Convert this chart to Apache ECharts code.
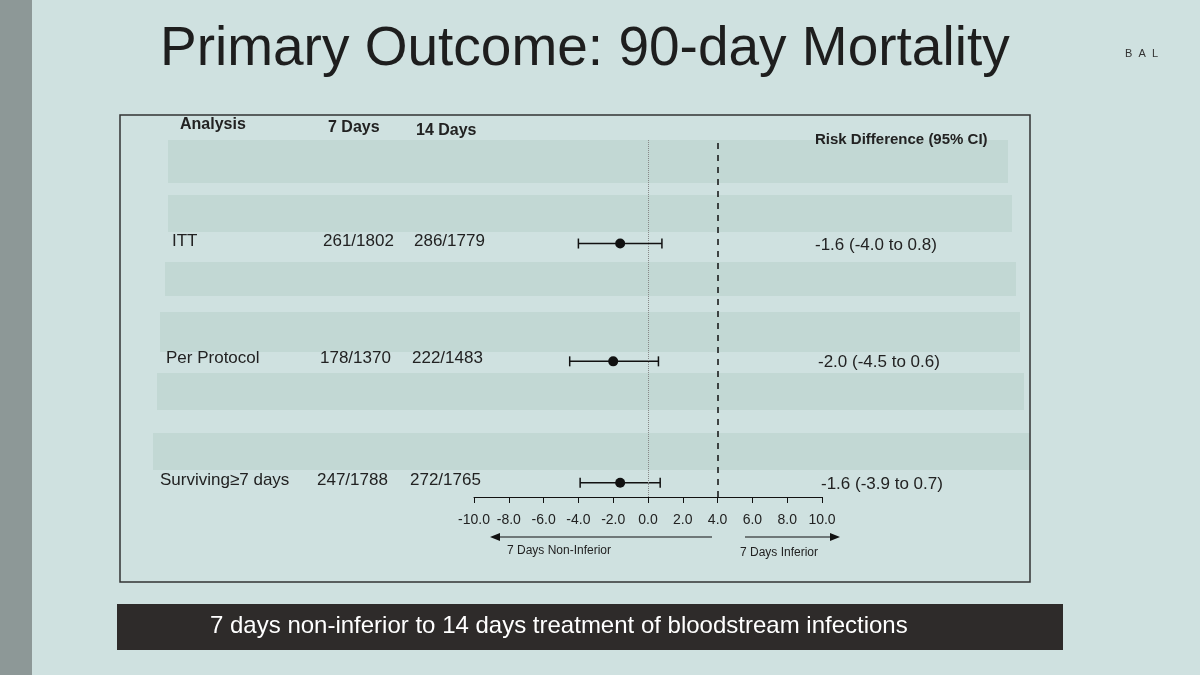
<!DOCTYPE html><html><head><meta charset="utf-8"><script src="https://cdn.jsdelivr.net/npm/echarts@6/dist/echarts.min.js"></script>
<style>html,body{margin:0;background:#cfe1e0}#c{width:1200px;height:675px}</style></head><body><div id="c"></div>
<script>
const analyses=['ITT','Per Protocol','Surviving≥7 days'];
const days7=['261/1802','178/1370','247/1788'];
const days14=['286/1779','222/1483','272/1765'];
const rd=[-1.6,-2.0,-1.6];
const lo=[-4.0,-4.5,-3.9];
const hi=[0.8,0.6,0.7];
const rowY=[71,38,4];
const ticks=[-10,-8,-6,-4,-2,0,2,4,6,8,10];
const ch=echarts.init(document.getElementById('c'));
const F='Liberation Sans, Arial, sans-serif';
const txt=(x,y,t,o={})=>({type:'text',left:x,top:y,style:Object.assign({text:t,fontSize:16,fill:'#222',fontFamily:F},o)});
const stripes=[[168,140,1008,43],[168,195,1012,37],[165,262,1016,34],[160,312,1020,40],[157,373,1024,37],[153,433,1030,37]];
const g=[];
g.push({type:'rect',shape:{x:0,y:0,width:32,height:675},style:{fill:'#8d9897'}});
g.push({type:'rect',shape:{x:120,y:115,width:910,height:467},style:{fill:'none',stroke:'#333',lineWidth:1.5}});
stripes.forEach(s=>g.push({type:'rect',z:-1,shape:{x:s[0],y:s[1],width:s[2]-s[0],height:s[3]},style:{fill:'#c2d8d4'}}));
g.push(txt(160,22,'Primary Outcome: 90-day Mortality',{fontSize:55,fill:'#1e1e1e'}));
g.push(txt(1125,48,'B  A  L',{fontSize:11,fill:'#333'}));
g.push(txt(180,117,'Analysis',{fontWeight:'bold'}));
g.push(txt(328,120,'7 Days',{fontWeight:'bold'}));
g.push(txt(416,123,'14 Days',{fontWeight:'bold'}));
g.push(txt(815,132,'Risk Difference (95% CI)',{fontWeight:'bold',fontSize:15}));
const ys=[233,350,472];const xl=[172,166,160];
analyses.forEach((a,i)=>{
 g.push(txt(xl[i],ys[i],a,{fontSize:17}));
 g.push(txt(323-i*3,ys[i],days7[i],{fontSize:17}));
 g.push(txt(414-i*2,ys[i],days14[i],{fontSize:17}));
 g.push(txt(815+i*3,ys[i]+4,rd[i].toFixed(1)+' ('+lo[i].toFixed(1)+' to '+hi[i].toFixed(1)+')',{fontSize:17}));
});
g.push({type:'line',shape:{x1:712,y1:537,x2:498,y2:537},style:{stroke:'#111',lineWidth:1.2}});
g.push({type:'polygon',shape:{points:[[490,537],[500,533],[500,541]]},style:{fill:'#111'}});
g.push({type:'line',shape:{x1:745,y1:537,x2:832,y2:537},style:{stroke:'#111',lineWidth:1.2}});
g.push({type:'polygon',shape:{points:[[840,537],[830,533],[830,541]]},style:{fill:'#111'}});
g.push(txt(507,545,'7 Days Non-Inferior',{fontSize:12}));
g.push(txt(740,547,'7 Days Inferior',{fontSize:12}));
g.push({type:'rect',shape:{x:117,y:604,width:946,height:46},style:{fill:'#2e2b2a'}});
g.push(txt(210,614,'7 days non-inferior to 14 days treatment of bloodstream infections',{fontSize:24,fill:'#fff'}));
ch.setOption({animation:false,backgroundColor:'#cfe1e0',graphic:g,
grid:{left:474,width:348,top:140,bottom:178},
xAxis:{type:'value',min:-10,max:10,interval:2,axisLine:{lineStyle:{color:'#111'}},axisTick:{length:6,lineStyle:{color:'#111'}},splitLine:{show:false},
 axisLabel:{formatter:v=>v.toFixed(1),color:'#222',fontSize:14,margin:16,fontFamily:F,customValues:ticks}},
yAxis:{type:'value',min:0,max:100,show:false},
series:[{type:'custom',data:rd.map((v,i)=>[v,rowY[i],lo[i],hi[i]]),
 renderItem:(p,api)=>{const c=api.coord([api.value(0),api.value(1)]);const a=api.coord([api.value(2),api.value(1)]);const b=api.coord([api.value(3),api.value(1)]);
 const st={stroke:'#111',lineWidth:1.5};
 return {type:'group',children:[{type:'line',shape:{x1:a[0],y1:c[1],x2:b[0],y2:c[1]},style:st},
 {type:'line',shape:{x1:a[0],y1:c[1]-5,x2:a[0],y2:c[1]+5},style:st},
 {type:'line',shape:{x1:b[0],y1:c[1]-5,x2:b[0],y2:c[1]+5},style:st},
 {type:'circle',shape:{cx:c[0],cy:c[1],r:5},style:{fill:'#111'}}]};},
 markLine:{symbol:'none',silent:true,label:{show:false},data:[
  {xAxis:0,lineStyle:{color:'#888',type:'dotted',width:1}},
  {xAxis:4,lineStyle:{color:'#111',type:[6,6],width:1.5}}]}}]});
</script></body></html>
